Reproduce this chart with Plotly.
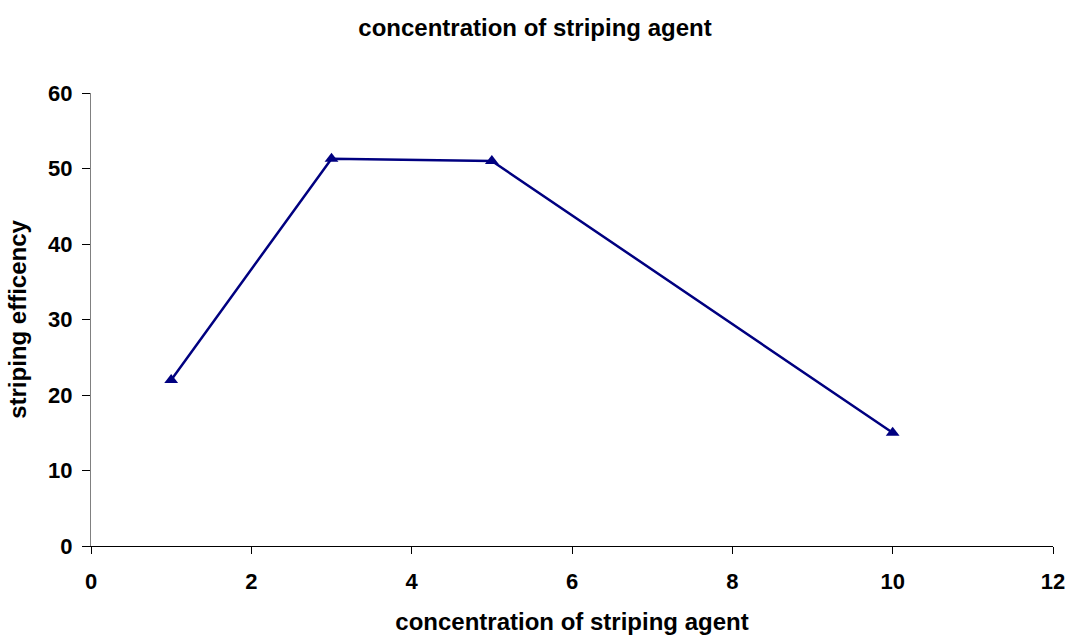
import plotly.graph_objects as go

concentration = [1, 3, 5, 10]
efficiency = [22.0, 51.3, 51.0, 15.0]
x_ticks = [0, 2, 4, 6, 8, 10, 12]
y_ticks = [0, 10, 20, 30, 40, 50, 60]

fig = go.Figure()
fig.add_trace(go.Scatter(
    x=concentration, y=efficiency, mode="lines+markers",
    line=dict(color="#000080", width=2.5),
    marker=dict(symbol="triangle-up", size=12, color="#000080"),
    showlegend=False,
))

tick_font = dict(family="Liberation Sans, Arial", size=22, color="black")
title_font = dict(family="Liberation Sans, Arial", size=24, color="black")
fig.update_layout(
    width=1070, height=635,
    margin=dict(l=91, r=17, t=93, b=89),
    paper_bgcolor="white", plot_bgcolor="white",
    title=dict(text="<b>concentration of striping agent</b>", x=0.5, xanchor="center",
               y=0.956, yanchor="middle", font=title_font, automargin=False),
    font=tick_font,
)
fig.update_xaxes(
    range=[0, 12], tickvals=x_ticks, ticktext=["<b>%d</b>" % v for v in x_ticks],
    showline=True, linecolor="black", linewidth=1, ticks="outside", ticklen=7, tickcolor="black",
    showgrid=False, zeroline=False, tickfont=tick_font, ticklabelstandoff=9, automargin=False,
    title=dict(text="<b>concentration of striping agent</b>", standoff=23, font=title_font),
)
fig.update_yaxes(
    range=[0, 60], tickvals=y_ticks, ticktext=["<b>%d</b>" % v for v in y_ticks],
    showline=True, linecolor="#808080", linewidth=1, ticks="outside", ticklen=8, tickcolor="black",
    showgrid=False, zeroline=False, tickfont=tick_font, ticklabelstandoff=5, automargin=False,
    title=dict(text="<b>striping efficency</b>", standoff=14, font=title_font),
)
fig.write_html("out.html")
